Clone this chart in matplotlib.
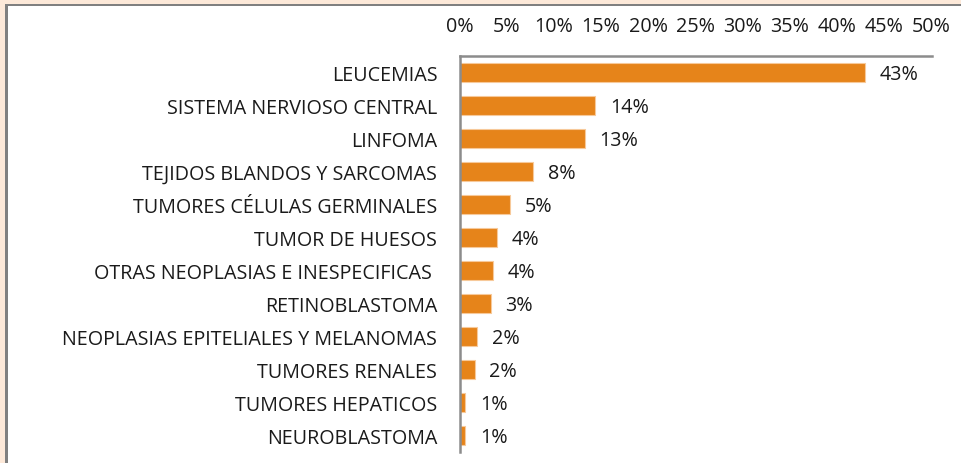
import matplotlib
matplotlib.use("Agg")
import matplotlib.pyplot as plt
from matplotlib.patches import Rectangle
from matplotlib.ticker import FuncFormatter

# Distribución de casos por grupo diagnóstico (proporción del total)
categorias = [
    "LEUCEMIAS",
    "SISTEMA NERVIOSO CENTRAL",
    "LINFOMA",
    "TEJIDOS BLANDOS Y SARCOMAS",
    "TUMORES CÉLULAS GERMINALES",
    "TUMOR DE HUESOS",
    "OTRAS NEOPLASIAS E INESPECIFICAS ",
    "RETINOBLASTOMA",
    "NEOPLASIAS EPITELIALES Y MELANOMAS",
    "TUMORES RENALES",
    "TUMORES HEPATICOS",
    "NEUROBLASTOMA",
]
proporciones = [0.430, 0.144, 0.133, 0.078, 0.054, 0.040, 0.036, 0.033, 0.019, 0.016, 0.006, 0.006]
ticks_x = [0.00, 0.05, 0.10, 0.15, 0.20, 0.25, 0.30, 0.35, 0.40, 0.45, 0.50]

FUENTE = "Open Sans"
TAM = 14.2
NARANJA = "#E6841A"
GRIS = "#8C8C8C"
TEXTO = "#1A1A1A"

plt.rcParams["font.family"] = [FUENTE, "DejaVu Sans"]

fig = plt.figure(figsize=(9.61, 4.64), dpi=100)
fig.patch.set_facecolor("#FDE9D9")

W, H = 961.0, 464.0
# panel blanco con borde gris
fig.patches.append(Rectangle((5 / W, -0.1), 1.2, (H - 5) / H + 0.1,
                             transform=fig.transFigure, facecolor="#808080",
                             edgecolor="none", zorder=-2))
fig.patches.append(Rectangle((8 / W, -0.1), 1.2, (H - 7) / H + 0.1,
                             transform=fig.transFigure, facecolor="white",
                             edgecolor="none", zorder=-1))

ax = fig.add_axes([459.5 / W, 10.7 / H, 472 / W, 396.6 / H])
ax.set_facecolor("none")

y = list(range(len(categorias)))
bars = ax.barh(y, proporciones, height=0.57, color=NARANJA,
               edgecolor="#F7C99A", linewidth=0.8)

for b, v in zip(bars, proporciones):
    ax.annotate(f"{v:.0%}", xy=(b.get_width(), b.get_y() + b.get_height() / 2),
                xytext=(10.5, -1), textcoords="offset points",
                ha="left", va="center", fontsize=TAM, color=TEXTO)

ax.set_xlim(0, 0.5)
ax.set_ylim(len(categorias) - 0.5, -0.5)
ax.set_yticks(y)
ax.set_yticklabels(categorias)
ax.set_xticks(ticks_x)
ax.xaxis.set_major_formatter(FuncFormatter(lambda v, p: f"{v:.0%}"))
ax.xaxis.tick_top()
ax.tick_params(axis="x", length=0, pad=14, labelsize=TAM, labelcolor=TEXTO)
ax.tick_params(axis="y", length=0, pad=16, labelsize=TAM, labelcolor=TEXTO)

for s in ("right", "bottom"):
    ax.spines[s].set_visible(False)
for s in ("top", "left"):
    ax.spines[s].set_color(GRIS)
    ax.spines[s].set_linewidth(1.8)

fig.savefig("out.png", dpi=100, facecolor=fig.get_facecolor())
